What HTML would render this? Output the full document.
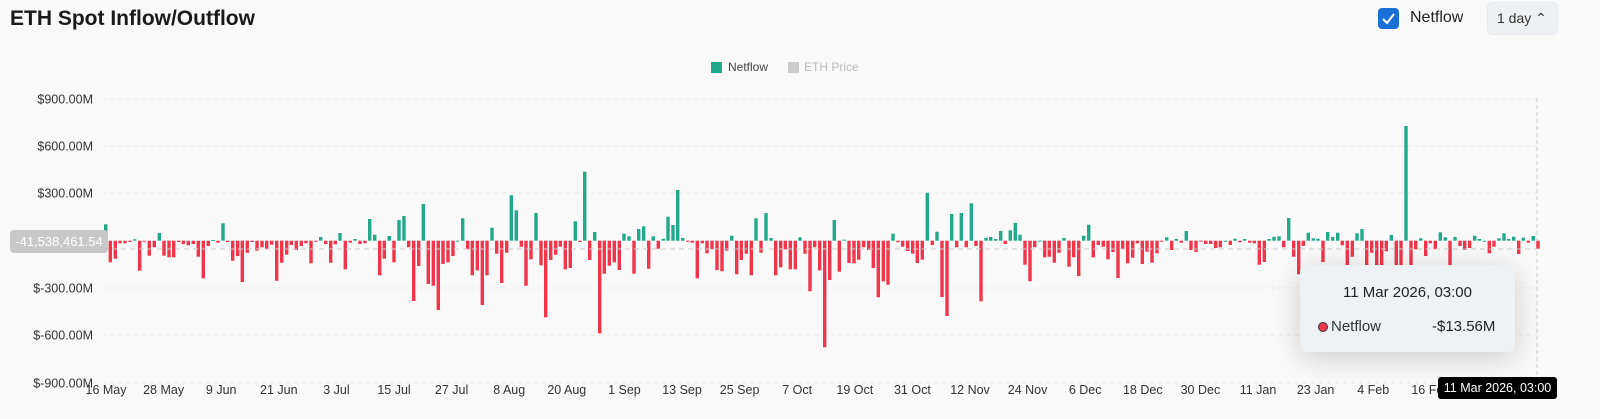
<!DOCTYPE html>
<html><head><meta charset="utf-8"><style>
body{margin:0;width:1600px;height:419px;background:#f9f9f9;font-family:"Liberation Sans",sans-serif;overflow:hidden;position:relative}
.t{position:absolute;white-space:nowrap}
</style></head><body>
<div class="t" style="left:10px;top:7px;font-size:21px;font-weight:bold;color:#1a1a1a">ETH Spot Inflow/Outflow</div>
<div class="t" style="left:1378px;top:8px;width:21px;height:21px;background:#1a6fd6;border-radius:4px"></div>
<svg class="t" style="left:1378px;top:8px" width="21" height="21"><path d="M5 11 L9 15 L16 6" stroke="#fff" stroke-width="2" fill="none"/></svg>
<div class="t" style="left:1410px;top:9px;font-size:16px;color:#222">Netflow</div>
<div class="t" style="left:1487px;top:2px;width:71px;height:33px;background:#eef1f4;border-radius:5px;border:1px solid #e4e8ec;box-sizing:border-box"></div>
<div class="t" style="left:1497px;top:10px;font-size:14px;color:#333">1 day ⌃</div>
<div class="t" style="left:711px;top:62px;width:11px;height:11px;background:#21a98a"></div>
<div class="t" style="left:728px;top:60px;font-size:12px;color:#444">Netflow</div>
<div class="t" style="left:788px;top:62px;width:11px;height:11px;background:#ccc"></div>
<div class="t" style="left:804px;top:60px;font-size:12px;color:#bbb">ETH Price</div>
<svg id="c" class="t" style="left:0;top:0" width="1600" height="419"></svg>
<div class="t" style="left:10px;top:230px;width:98px;height:23px;background:#c8c8c8;border-radius:4px;color:#fff;font-size:13px;line-height:23px;text-align:center">-41,538,461.54</div>
<div class="t" style="left:1300px;top:265px;width:215px;height:87px;background:#eef2f5;border-radius:7px;box-shadow:0 6px 30px rgba(0,0,0,0.18)"></div>
<div class="t" style="left:1343px;top:284px;font-size:15px;color:#222">11 Mar 2026, 03:00</div>
<div class="t" style="left:1318px;top:322px;width:8px;height:8px;border-radius:50%;background:#f0364a;border:1.5px solid #333"></div>
<div class="t" style="left:1331px;top:318px;font-size:15px;color:#333">Netflow</div>
<div class="t" style="left:1432px;top:318px;font-size:15px;color:#222">-$13.56M</div>
<div class="t" style="left:1438px;top:377px;width:119px;height:22px;background:#000;border-radius:3px;color:#fff;font-size:12.5px;line-height:22px;text-align:center">11 Mar 2026, 03:00</div>
<script>
var s='',NS='';
var ys=[[900,99],[600,146],[300,193],[-300,288],[-600,335],[-900,383]];
ys.forEach(function(a){s+='<line x1="103" x2="1537" y1="'+a[1]+'" y2="'+a[1]+'" stroke="#e6e6e6" stroke-dasharray="4,4"/>';
s+='<text x="93" y="'+(a[1]+4.5)+'" text-anchor="end" font-size="12.5" fill="#333">$'+a[0].toFixed(2)+'M</text>';});
s+='<line x1="1537" x2="1537" y1="98" y2="383" stroke="#ccc" stroke-dasharray="4,3"/>';
var z4=[[17,193],[31,307],[46,296],[60,250],[75,250],[90,246],[104,238],[119,332],[133,243],[148,287],[163,262],[178,219],[192,287],[207,292],[221,292],[236,246],[250,252],[265,256],[280,252],[295,290],[310,355],[325,258],[339,240],[354,248],[369,190],[383,246],[398,302],[413,288],[427,366],[442,278],[457,246],[471,272],[486,262],[500,268],[515,254],[530,362],[545,308],[560,284],[574,255],[589,270],[604,258],[618,250],[633,310],[648,245],[662,231],[677,252],[692,308],[706,253],[720,219],[736,328],[751,248],[765,237],[780,252],[795,250],[809,177],[824,224],[839,346],[853,296],[868,228],[882,307],[897,180],[912,168],[926,262],[941,423],[956,318],[970,132],[985,372],[1000,377],[1015,450],[1029,312],[1044,307],[1059,288],[1073,242],[1088,175],[1103,268],[1117,346],[1132,331],[1147,435],[1161,346],[1176,203],[1190,281],[1205,369],[1220,278],[1234,106],[1249,151],[1264,260],[1278,377],[1293,298],[1308,159],[1323,316],[1337,472],[1352,300],[1367,284],[1381,260],[1396,328],[1411,324],[1426,184],[1440,246]];
var z5=[[44,35],[59,300],[74,216],[89,520],[103,341],[118,317],[133,307],[148,330],[162,221],[177,229],[192,341],[206,207],[221,199],[236,326],[250,229],[265,266],[280,236],[294,170],[309,195],[323,90],[338,234],[353,245],[367,248],[382,355],[397,250],[411,280],[426,268],[441,330],[456,334],[470,272],[485,227],[500,343],[514,300],[529,281],[544,346],[558,175],[573,278],[588,159],[603,234],[617,346],[632,322],[646,268],[661,328],[676,328],[690,232],[705,281],[720,394],[734,262],[749,331],[764,562],[779,360],[793,180],[808,335],[823,239],[837,309],[852,310],[866,299],[881,262],[896,270],[910,324],[925,412],[940,364],[954,374],[969,221],[984,247],[998,260],[1013,273],[1028,281],[1042,309],[1057,299],[1072,98],[1087,255],[1101,215],[1116,411],[1131,468],[1145,162],[1160,262],[1174,159],[1189,262],[1204,130],[1218,258],[1233,424],[1248,233],[1262,231],[1277,237],[1292,213],[1306,252],[1321,211],[1336,189],[1350,224],[1365,314],[1380,364],[1394,262],[1409,242],[1424,292],[1438,290]];
var z6=[[43,458],[57,428],[72,384],[87,470],[101,442],[116,498],[131,377],[146,344],[160,442],[175,405],[190,410],[204,448],[219,426],[234,504],[248,416],[263,460],[278,443],[292,400],[307,462],[321,425],[336,458],[351,430],[365,395],[380,382],[395,420],[409,387],[424,398],[439,363],[453,420],[468,426],[483,395],[497,402],[512,402],[527,414],[541,412],[556,392],[571,405],[585,386],[600,397],[614,387],[629,398],[643,400],[658,464],[673,456],[687,387],[702,380],[717,379],[731,412],[746,324],[761,440],[776,493],[790,408],[805,368],[820,385],[834,386],[849,456],[863,366],[878,381],[893,368],[907,406],[922,480],[937,440],[951,370],[966,357],[980,480],[995,428],[1010,480],[1025,480],[1039,424],[1054,375],[1069,480],[1083,480],[1098,48],[1113,472],[1127,418],[1142,385],[1157,438],[1171,400],[1186,418],[1201,367],[1216,382],[1230,480],[1245,381],[1260,408],[1274,420],[1289,414],[1304,377],[1318,387],[1333,392],[1348,430],[1362,410],[1377,385],[1392,370],[1406,387],[1421,380],[1436,432],[1450,383],[1465,398],[1480,378],[1494,416]];
var Z=240.7;
function bar(x,y){var g=y<Z;var top=g?y:Z,h=Math.max(Math.abs(y-Z),1);
s+='<rect x="'+(x-1.7).toFixed(1)+'" y="'+top.toFixed(1)+'" width="3.4" height="'+h.toFixed(1)+'" fill="'+(g?'#21a98a':'#f0364a')+'"/>';}
z4.forEach(function(a){bar(100+a[0]/3,160+a[1]/3)});
z5.forEach(function(a){bar(570+a[0]/3,160+a[1]/3)});
z6.forEach(function(a){bar(1040+a[0]/3,110+a[1]/3)});
s+='<line x1="103" x2="1537" y1="249" y2="249" stroke="#ccc" stroke-dasharray="5,4"/>';
var L=['16 May','28 May','9 Jun','21 Jun','3 Jul','15 Jul','27 Jul','8 Aug','20 Aug','1 Sep','13 Sep','25 Sep','7 Oct','19 Oct','31 Oct','12 Nov','24 Nov','6 Dec','18 Dec','30 Dec','11 Jan','23 Jan','4 Feb','16 Feb'];
L.forEach(function(t,i){s+='<text x="'+(106+57.6*i)+'" y="394" text-anchor="middle" font-size="12.5" fill="#333">'+t+'</text>';});
document.getElementById('c').innerHTML=s;
</script>
</body></html>
